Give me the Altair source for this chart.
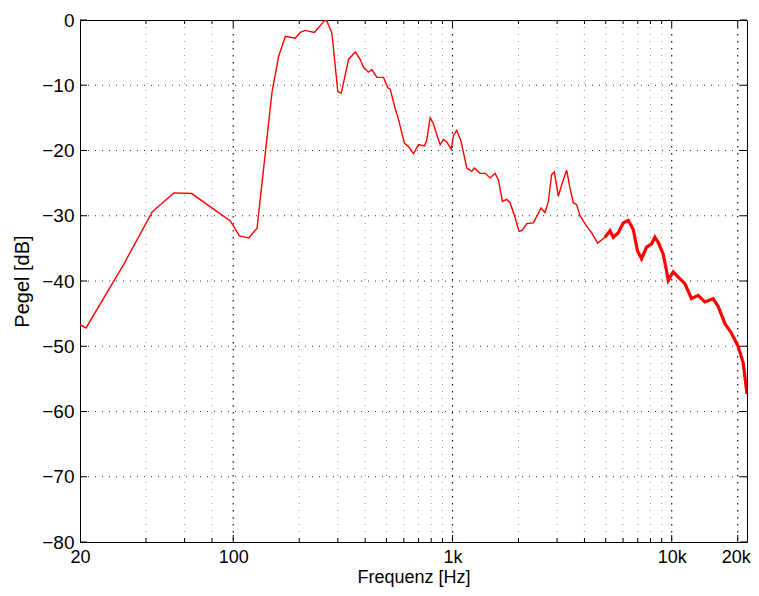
import altair as alt
import pandas as pd

# ---- data ----
freq = [20, 21.3, 31.7, 42.7, 53.6, 64.6, 97, 106.7, 117.7, 128.4, 150.2, 161, 172.9,
        191.9, 202.3, 213.3, 234.4, 261.3, 267, 281.8, 300, 311, 336, 361, 380, 393,
        414, 429, 452, 485, 507, 520, 548, 567, 604, 630, 664, 700, 745, 763, 791, 819,
        848, 879, 910, 942, 987, 1011, 1046, 1096, 1162, 1224, 1259, 1337, 1409, 1485,
        1565, 1620, 1690, 1767, 1832, 1931, 2013, 2084, 2181, 2339, 2535, 2644, 2737,
        2833, 2916, 3040, 3148, 3318, 3437, 3557, 3683, 3815, 4093, 4311, 4591, 4963,
        5232, 5415, 5705, 6012, 6337, 6677, 6984, 7286, 7680, 8094, 8386, 8681, 9146,
        9467, 9640, 10160, 10710, 11480, 12310, 13200, 14160, 15450, 16290, 17470,
        18740, 20090, 21170, 22050]
level = [-46.7, -47.2, -37.4, -29.4, -26.5, -26.6, -30.8, -33.1, -33.4, -31.9, -11.1, -5.6,
         -2.5, -2.8, -1.9, -1.6, -1.9, -0.1, -0.1, -2.0, -11.0, -11.2, -6.0, -4.9, -6.1,
         -7.3, -8.0, -7.6, -8.8, -8.8, -10.4, -10.6, -13.6, -15.2, -18.9, -19.4, -20.5,
         -19.1, -19.3, -18.4, -15.0, -15.9, -17.6, -19.1, -18.3, -18.7, -19.8, -17.7,
         -16.9, -18.7, -22.7, -23.2, -22.7, -23.5, -23.5, -24.2, -23.5, -24.5, -27.8,
         -27.5, -28.0, -30.3, -32.4, -32.2, -31.2, -31.1, -28.8, -29.5, -27.8, -23.7,
         -23.3, -27.0, -25.3, -23.0, -25.8, -28.0, -28.3, -30.0, -31.6, -32.6, -34.2,
         -33.3, -32.3, -33.3, -32.6, -31.1, -30.7, -32.1, -35.4, -36.6, -34.8, -34.3,
         -33.3, -34.1, -35.9, -38.4, -39.9, -38.6, -39.4, -40.4, -42.7, -42.2, -43.2,
         -42.7, -43.9, -46.5, -48.0, -50.0, -52.5, -57.3]

y_ticks = [-80, -70, -60, -50, -40, -30, -20, -10, 0]
x_label_vals = [20, 100, 1000, 10000, 20000]
x_major_grid = [100, 1000, 10000, 20000]
x_minor_grid = [40, 60, 80, 200, 300, 400, 500, 600, 700, 800, 900,
                2000, 3000, 4000, 5000, 6000, 7000, 8000, 9000]

W, H = 667, 522
FONT = "Liberation Sans"

xs = alt.Scale(type="log", domain=[20, 22050], nice=False)
ys = alt.Scale(domain=[-80, 0], nice=False)

curve = pd.DataFrame({"f": freq, "db": level})
ytick_df = pd.DataFrame({"db": y_ticks})
vmaj_df = pd.DataFrame({"f": x_major_grid})
vmin_df = pd.DataFrame({"f": x_minor_grid})

x_axis = alt.Axis(
    values=x_label_vals,
    labelExpr="datum.value >= 1000 ? format(datum.value / 1000, 'd') + 'k' : format(datum.value, 'd')",
    title="Frequenz [Hz]", grid=False, ticks=False, domain=False,
    labelPadding=6, labelFontSize=18, labelFont=FONT, labelColor="black",
    labelFlush=False, labelOverlap=False,
    labelOffset={"condition": {"test": "datum.value >= 20000", "value": -2}, "value": 0},
    titleFontSize=18, titleFont=FONT, titleColor="black", titleFontWeight="normal",
    titleX=W / 2, titleY=35, titleBaseline="middle", titleAlign="center")
y_axis = alt.Axis(
    values=y_ticks,
    labelExpr="datum.value < 0 ? '\u2212' + format(-datum.value, 'd') : format(datum.value, 'd')",
    title="Pegel [dB]", grid=False, ticks=False, domain=False,
    labelPadding=6, labelFontSize=19, labelFont=FONT, labelColor="black",
    labelFlush=False, labelOverlap=False,
    titleFontSize=20, titleFont=FONT, titleColor="black", titleFontWeight="normal",
    titleAngle=270, titleX=-58, titleY=H / 2, titleBaseline="middle", titleAlign="center")

X = alt.X("f:Q", scale=xs, axis=x_axis)
Y = alt.Y("db:Q", scale=ys, axis=y_axis)

hgrid = alt.Chart(pd.DataFrame({"db": y_ticks[1:-1]})).mark_rule(
    color="#333333", strokeDash=[1, 6], strokeWidth=1).encode(y=Y)
vminor = alt.Chart(vmin_df).mark_rule(color="#9a9a9a", strokeDash=[1, 6], strokeWidth=1).encode(x=X)
vmajor = alt.Chart(vmaj_df).mark_rule(color="#111111", strokeDash=[1.5, 5.5], strokeWidth=1.2).encode(x=X)

ytl = alt.Chart(ytick_df).mark_rule(color="black").encode(y=Y, x=alt.value(0), x2=alt.value(7))
ytr = alt.Chart(ytick_df).mark_rule(color="black").encode(y=Y, x=alt.value(W - 7), x2=alt.value(W))
xtb = alt.Chart(vmaj_df).mark_rule(color="black").encode(x=X, y=alt.value(H), y2=alt.value(H - 7))
xtt = alt.Chart(vmaj_df).mark_rule(color="black").encode(x=X, y=alt.value(0), y2=alt.value(7))
xmb = alt.Chart(vmin_df).mark_rule(color="black").encode(x=X, y=alt.value(H), y2=alt.value(H - 4))
xmt = alt.Chart(vmin_df).mark_rule(color="black").encode(x=X, y=alt.value(0), y2=alt.value(4))

line = alt.Chart(curve).mark_line(color="#ff0000", strokeWidth=1.4, clip=True).encode(x=X, y=Y)
hf = alt.Chart(curve).transform_filter("datum.f >= 4800").mark_line(
    color="#ff0000", strokeWidth=3.2, clip=True).encode(x=X, y=Y)

chart = alt.layer(hgrid, vminor, vmajor, ytl, ytr, xtb, xtt, xmb, xmt, line, hf).properties(
    width=W, height=H,
    autosize=alt.AutoSizeParams(type="none"),
    padding={"left": 72, "top": 12, "right": 4, "bottom": 46},
    background="white",
).configure_view(stroke="black", strokeWidth=1)

chart.save("out.html", embed_options={"renderer": "svg", "actions": False})
